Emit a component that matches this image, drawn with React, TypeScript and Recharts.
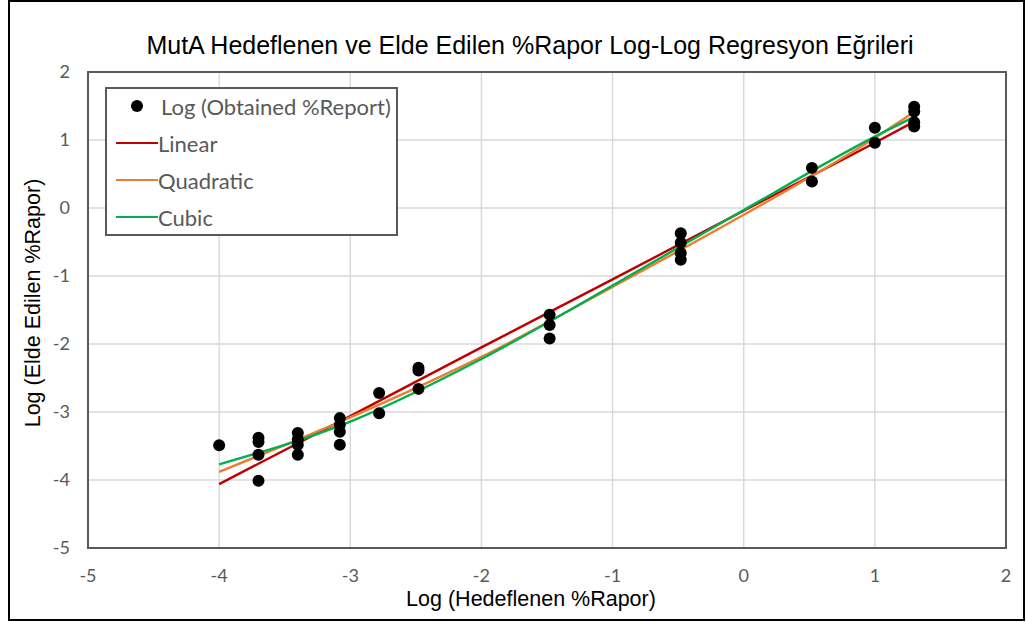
import {
  ComposedChart,
  Scatter,
  Line,
  XAxis,
  YAxis,
  CartesianGrid,
  ReferenceArea,
} from 'recharts';

// log10 of the targeted %report (x) and the obtained values at each level (y)
const xLevels = [-4, -3.7, -3.4, -3.08, -2.78, -2.48, -1.48, -0.48, 0.52, 1.0, 1.3];
const obtainedLog = [
  [-3.49],
  [-3.38, -3.44, -3.63, -4.01],
  [-3.31, -3.4, -3.48, -3.63],
  [-3.09, -3.19, -3.29, -3.48],
  [-2.72, -3.02],
  [-2.35, -2.39, -2.66],
  [-1.57, -1.72, -1.92],
  [-0.37, -0.51, -0.66, -0.76],
  [0.59, 0.39],
  [1.18, 0.96],
  [1.49, 1.42, 1.26, 1.2],
];

// fitted curves
const fitX = [-4, -3, -2, -1, 0, 1, 1.3];
const linearY = [-4.06, -3.06, -2.05, -1.05, -0.04, 0.96, 1.27];
const quadraticY = [-3.88, -3.08, -2.19, -1.16, -0.1, 1.03, 1.41];
const cubicY = [-3.77, -3.14, -2.22, -1.14, -0.03, 1.05, 1.34];

const xTicks = [-5, -4, -3, -2, -1, 0, 1, 2];
const yTicks = [-5, -4, -3, -2, -1, 0, 1, 2];

const points = xLevels.flatMap((x, i) => obtainedLog[i].map((y) => ({ x, y })));
const toSeries = (ys: number[]) => fitX.map((x, i) => ({ x, y: ys[i] }));

const fits = [
  { name: 'Linear', color: '#C00000', data: toSeries(linearY) },
  { name: 'Quadratic', color: '#ED7D31', data: toSeries(quadraticY) },
  { name: 'Cubic', color: '#00B050', data: toSeries(cubicY) },
];

const sans = '"Liberation Sans", Arial, sans-serif';
const tickFont = 'Lato, "Noto Sans", sans-serif';

function LegendBox() {
  return (
    <div
      style={{
        position: 'absolute',
        left: 105,
        top: 87,
        width: 293,
        height: 149,
        boxSizing: 'border-box',
        border: '2px solid #595959',
        background: '#fff',
        fontFamily: tickFont,
        fontSize: 22,
        color: '#595959',
      }}
    >
      <div style={{ position: 'absolute', left: 24, top: 2, height: 30, display: 'flex', alignItems: 'center' }}>
        <span style={{ width: 12, height: 12, borderRadius: '50%', background: '#000', display: 'inline-block' }} />
        <span style={{ marginLeft: 18, whiteSpace: 'nowrap' }}>Log (Obtained %Report)</span>
      </div>
      {fits.map((f, i) => (
        <div
          key={f.name}
          style={{ position: 'absolute', left: 9, top: 39 + i * 37, height: 30, display: 'flex', alignItems: 'center' }}
        >
          <span style={{ width: 42, height: 2, background: f.color, display: 'inline-block' }} />
          <span>{f.name}</span>
        </div>
      ))}
    </div>
  );
}

export default function App() {
  return (
    <div style={{ position: 'absolute', left: 0, top: 0, width: 1026, height: 622, background: '#fff' }}>
      <div
        style={{
          position: 'absolute',
          left: 8,
          top: 0,
          width: 1017,
          height: 621,
          boxSizing: 'border-box',
          border: '2px solid #000',
        }}
      />
      <ComposedChart
        width={1026}
        height={622}
        margin={{ top: 72, right: 20, bottom: 14, left: 8 }}
        style={{ position: 'absolute', left: 0, top: 0 }}
      >
        <CartesianGrid stroke="#D9D9D9" strokeWidth={1.5} />
        <XAxis
          type="number"
          dataKey="x"
          domain={[-5, 2]}
          ticks={xTicks}
          tickLine={false}
          axisLine={false}
          height={60}
          tickMargin={15}
          tick={{ fill: '#595959', fontSize: 18, fontFamily: tickFont }}
        />
        <YAxis
          type="number"
          dataKey="y"
          domain={[-5, 2]}
          ticks={yTicks}
          tickLine={false}
          axisLine={false}
          width={80}
          tickMargin={12}
          tick={{ fill: '#595959', fontSize: 18, fontFamily: tickFont }}
        />
        <ReferenceArea x1={-5} x2={2} y1={-5} y2={2} fill="none" stroke="#595959" strokeWidth={2} />
        <Scatter
          name="Log (Obtained %Report)"
          data={points}
          fill="#000"
          isAnimationActive={false}
          shape={(p: any) => <circle cx={p.cx} cy={p.cy} r={6} fill="#000" />}
        />
        {fits.map((f) => (
          <Line
            key={f.name}
            name={f.name}
            data={f.data}
            dataKey="y"
            type="monotone"
            stroke={f.color}
            strokeWidth={2.4}
            dot={false}
            isAnimationActive={false}
          />
        ))}
      </ComposedChart>
      <LegendBox />
      <div
        style={{
          position: 'absolute',
          left: 530,
          top: 31,
          transform: 'translateX(-50%)',
          whiteSpace: 'nowrap',
          fontFamily: sans,
          fontSize: 25,
          color: '#000',
        }}
      >
        MutA Hedeflenen ve Elde Edilen %Rapor Log-Log Regresyon Eğrileri
      </div>
      <div
        style={{
          position: 'absolute',
          left: 531,
          top: 587,
          transform: 'translateX(-50%)',
          whiteSpace: 'nowrap',
          fontFamily: sans,
          fontSize: 21.5,
          color: '#000',
        }}
      >
        Log (Hedeflenen %Rapor)
      </div>
      <div
        style={{
          position: 'absolute',
          left: 33,
          top: 303,
          transform: 'translate(-50%, -50%) rotate(-90deg)',
          whiteSpace: 'nowrap',
          fontFamily: sans,
          fontSize: 21.5,
          color: '#000',
        }}
      >
        Log (Elde Edilen %Rapor)
      </div>
    </div>
  );
}
